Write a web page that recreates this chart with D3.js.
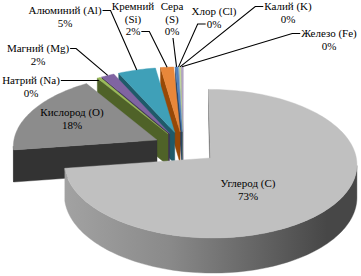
<!DOCTYPE html>
<html>
<head>
<meta charset="utf-8">
<script src="https://cdn.jsdelivr.net/npm/d3@7"></script>
<style>
  html, body { margin: 0; padding: 0; background: #fff; }
  svg { display: block; }
  text { font-family: "Times New Roman", "Liberation Serif", "DejaVu Serif", serif; font-size: 11px; fill: #000; }
</style>
</head>
<body>
<svg id="chart" width="361" height="276"></svg>
<script>
// data (percent of mass)
var elements = ["Углерод (C)", "Кислород (O)", "Натрий (Na)", "Магний (Mg)", "Алюминий (Al)",
                "Кремний (Si)", "Сера (S)", "Хлор (Cl)", "Калий (K)", "Железо (Fe)"];
var shares = [72.8, 18.2, 0.4, 1.6, 4.6, 1.6, 0.3, 0.1, 0.2, 0.2];

var topColors  = ["#c0c0c0", "#8c8c8c", "#9bbb59", "#8064a2", "#3fa0b8", "#e8873a", "#4f81bd", "#95b3d7", "#c3d69b", "#b3a2c7"];
var sideColors = ["#6a6a6a", "#333333", "#4f6228", "#3f3151", "#1f5a69", "#974806", "#244061", "#4a6a90", "#76923c", "#5f497a"];

// label placement (text centre x, first baseline y) and leader style
var labelLayout = [
  { x: 248, y: 187 },
  { x: 72,  y: 116 },
  { x: 31,  y: 84, side: "right", line: 0, knee: 0 },
  { x: 38,  y: 52, side: "right", line: 0, knee: 6 },
  { x: 65,  y: 14, side: "right", line: 0, knee: 8 },
  { x: 133, y: 10, side: "right", line: 2, knee: 8, wrap: true },
  { x: 172, y: 10, side: "bottom", wrap: true },
  { x: 214, y: 15, side: "left", line: 1, knee: 8 },
  { x: 288, y: 10, side: "left", line: 0, knee: 8 },
  { x: 329, y: 37, side: "left", line: 0, knee: 8 }
];

var svg = d3.select("#chart");

// tilted disc with a bit of perspective
var cx = 183, cy = 146, rx = 144, ry = 72, persp = 0.076, depth = 32;
var lineH = 12.5;

var xs = d3.scaleLinear().domain([-1, 1]).range([cx - rx, cx + rx]);
var ys = d3.scaleLinear().domain([-1, 1]).range([cy + ry, cy - ry]);

function proj(u, v, h) {
  var w = 1 + persp * v;
  return [xs(u / w), ys(v / w) + depth * h / w];
}

function area(p) {
  var s = 0;
  for (var i = 0; i < p.length; i++) {
    var a = p[i], b = p[(i + 1) % p.length];
    s += a[0] * b[1] - b[0] * a[1];
  }
  return s;
}

var defs = svg.append("defs");
var grad = defs.append("linearGradient").attr("id", "carbonSide")
  .attr("gradientUnits", "userSpaceOnUse")
  .attr("x1", xs(-1)).attr("x2", xs(1)).attr("y1", 0).attr("y2", 0);
grad.append("stop").attr("offset", "0%").attr("stop-color", "#a8a8a8");
grad.append("stop").attr("offset", "45%").attr("stop-color", "#8a8a8a");
grad.append("stop").attr("offset", "100%").attr("stop-color", "#474747");

var pie = d3.pie().sort(null).value(function(d) { return d; })
  .startAngle(0).endAngle(2 * Math.PI);

var arcs = pie(shares).map(function(a, i) {
  var m = (a.startAngle + a.endAngle) / 2;
  var e = i === 0 ? 0.25 : 0.2;
  return { i: i, a0: a.startAngle, a1: a.endAngle, m: m,
           ou: e * Math.sin(m), ov: e * Math.cos(m) };
});

function rim(s, t, h) { return proj(s.ou + Math.sin(t), s.ov + Math.cos(t), h); }
function apex(s, h) { return proj(s.ou, s.ov, h); }

var line = d3.line();
var g = svg.append("g");

// far slices first
arcs.slice().sort(function(a, b) { return b.ov - a.ov; }).forEach(function(s) {
  var n = Math.max(2, Math.ceil((s.a1 - s.a0) / (2 * Math.PI) * 240));
  var ts = d3.range(n + 1).map(function(j) { return s.a0 + (s.a1 - s.a0) * j / n; });
  var sideFill = s.i === 0 ? "url(#carbonSide)" : sideColors[s.i];

  // outer wall, only the parts turned to us
  var run = [];
  function flush() {
    if (run.length > 1) {
      var pts = run.map(function(t) { return rim(s, t, 0); })
        .concat(run.slice().reverse().map(function(t) { return rim(s, t, 1); }));
      g.append("path").attr("d", line(pts) + "Z").attr("fill", sideFill)
        .attr("stroke", sideFill).attr("stroke-width", 0.4);
    }
    run = [];
  }
  for (var j = 0; j < n; j++) {
    var q = [rim(s, ts[j], 0), rim(s, ts[j + 1], 0), rim(s, ts[j + 1], 1), rim(s, ts[j], 1)];
    if (area(q) < 0) {
      if (!run.length) run.push(ts[j]);
      run.push(ts[j + 1]);
    } else flush();
  }
  flush();

  // cut faces
  var startFace = [apex(s, 0), rim(s, s.a0, 0), rim(s, s.a0, 1), apex(s, 1)];
  var endFace = [rim(s, s.a1, 0), apex(s, 0), apex(s, 1), rim(s, s.a1, 1)];
  [startFace, endFace].forEach(function(f) {
    if (area(f) < 0) {
      g.append("path").attr("d", line(f) + "Z")
        .attr("fill", sideColors[s.i]).attr("stroke", sideColors[s.i]).attr("stroke-width", 0.4);
    }
  });

  // top
  var top = [apex(s, 0)].concat(ts.map(function(t) { return rim(s, t, 0); }));
  g.append("path").attr("d", line(top) + "Z")
    .attr("fill", topColors[s.i]).attr("stroke", topColors[s.i]).attr("stroke-width", 0.4);
});

// labels and leader lines
var lab = svg.append("g");
arcs.forEach(function(s) {
  var L = labelLayout[s.i];
  var name = elements[s.i];
  var pct = Math.round(shares[s.i]) + "%";
  var lines = L.wrap ? name.split(" ").concat([pct]) : [name, pct];

  var nodes = lines.map(function(t, k) {
    return lab.append("text").attr("x", L.x).attr("y", L.y + k * lineH)
      .attr("text-anchor", "middle").text(t);
  });

  if (!L.side) return;
  var end = rim(s, s.m, 0);
  var pts;
  if (L.side === "bottom") {
    pts = [[L.x + 1, L.y + (lines.length - 1) * lineH + 3], end];
  } else {
    var len = nodes[L.line].node().getComputedTextLength();
    var yy = L.y + L.line * lineH - 3.5;
    var sx = L.side === "right" ? L.x + len / 2 + 1 : L.x - len / 2 - 1;
    var dir = L.side === "right" ? 1 : -1;
    pts = [[sx, yy]];
    if (L.knee) pts.push([sx + dir * L.knee, yy]);
    pts.push(L.knee ? end : [end[0], yy]);
  }
  lab.append("path").attr("d", line(pts)).attr("fill", "none")
    .attr("stroke", "#000").attr("stroke-width", 1.1);
});
</script>
</body>
</html>
